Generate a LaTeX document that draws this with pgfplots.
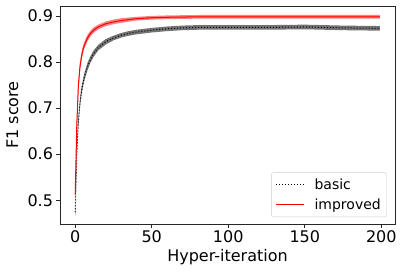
\documentclass[border=0pt]{standalone}
\usepackage{fontspec}
\setmainfont{DejaVu Sans}
\usepackage{pgfplots}
\pgfplotsset{compat=1.18}
\usepgfplotslibrary{fillbetween}
\usepackage{pgfplotstable}

\pgfplotstableread{
x y e
0 0.474 0.008
1 0.600 0.010
2 0.668 0.010
3 0.708 0.009
4 0.735 0.009
5 0.753 0.008
6 0.768 0.008
8 0.790 0.008
10 0.806 0.007
12 0.818 0.007
15 0.831 0.006
20 0.844 0.006
25 0.852 0.005
30 0.858 0.005
35 0.862 0.005
40 0.865 0.005
50 0.869 0.005
60 0.872 0.005
70 0.874 0.005
80 0.875 0.005
100 0.875 0.005
125 0.875 0.005
150 0.876 0.005
175 0.874 0.005
199 0.873 0.005
}\basictab

\pgfplotstableread{
x y e
0 0.512 0.010
1 0.660 0.012
2 0.745 0.010
3 0.787 0.009
4 0.810 0.008
5 0.826 0.008
6 0.837 0.007
8 0.852 0.007
10 0.862 0.006
12 0.869 0.006
15 0.876 0.005
20 0.883 0.005
25 0.887 0.005
30 0.890 0.005
40 0.894 0.004
50 0.896 0.004
60 0.897 0.004
80 0.898 0.004
100 0.898 0.004
150 0.898 0.004
199 0.898 0.004
}\improvedtab

\begin{document}
\begin{tikzpicture}[font=\fontsize{16bp}{19bp}\selectfont]
\begin{axis}[
  scale only axis, width=335bp, height=218bp,
  xmin=-9.95, xmax=208.95, ymin=0.4485, ymax=0.9215,
  xtick={0,50,100,150,200}, ytick={0.5,0.6,0.7,0.8,0.9},
  yticklabel style={/pgf/number format/fixed,/pgf/number format/precision=1,/pgf/number format/fixed zerofill},
  /pgf/number format/assume math mode=true,
  tick align=outside, major tick length=3.5bp,
  xtick pos=bottom, ytick pos=left,
  axis line style={black!85, line width=0.8bp},
  tick style={black!85, line width=0.8bp},
  xlabel={Hyper-iteration}, ylabel={F1 score},
  xlabel style={at={(axis description cs:0.5,-0.151)}, anchor=center},
  ylabel style={at={(axis description cs:-0.1418,0.5)}, anchor=center},
  legend style={at={(0.976,0.032)}, anchor=south east, draw=black!20, rounded corners=2bp,
    font=\fontsize{14bp}{17bp}\selectfont, inner xsep=4bp, inner ysep=4bp, row sep=4bp, column sep=8bp},
  legend cell align=left,
  legend image code/.code={\draw[#1] (0bp,0bp) -- (28bp,0bp);},
]
\addplot[name path=bu, draw=none, forget plot] table[x=x, y expr=\thisrow{y}+\thisrow{e}] {\basictab};
\addplot[name path=bl, draw=none, forget plot] table[x=x, y expr=\thisrow{y}-\thisrow{e}] {\basictab};
\addplot[black, fill opacity=0.55, forget plot] fill between[of=bu and bl];
\addplot[black, dotted, line width=1bp] table[x=x, y=y] {\basictab};
\addlegendentry{basic}
\addplot[name path=iu, draw=none, forget plot] table[x=x, y expr=\thisrow{y}+\thisrow{e}] {\improvedtab};
\addplot[name path=il, draw=none, forget plot] table[x=x, y expr=\thisrow{y}-\thisrow{e}] {\improvedtab};
\addplot[red, fill opacity=0.5, forget plot] fill between[of=iu and il];
\addplot[red, line width=1bp] table[x=x, y=y] {\improvedtab};
\addlegendentry{improved}
\end{axis}
\pgfresetboundingbox
\path[use as bounding box] ([shift={(-60bp,-48bp)}]current axis.south west) rectangle ([shift={(7bp,6bp)}]current axis.north east);
\end{tikzpicture}
\end{document}
